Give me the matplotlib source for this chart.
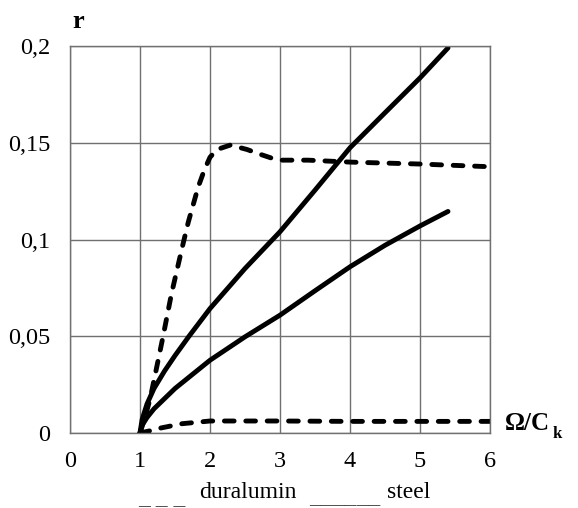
import matplotlib
matplotlib.use('Agg')
import matplotlib.pyplot as plt

plt.rcParams['font.family'] = ['Liberation Serif', 'DejaVu Serif']

# duralumin, upper curve (dashed)
dur1_x = [1, 1.07, 1.14, 1.21, 1.33, 1.45, 1.61, 1.69, 1.83, 1.92, 2.0, 2.1, 2.29,
          2.53, 2.72, 2.91, 3.0, 3.4, 4.0, 4.5, 5.0, 5.5, 6.0]
dur1_y = [0, 0.008, 0.017, 0.029, 0.05, 0.072, 0.097, 0.109, 0.127, 0.136, 0.1425, 0.1465, 0.1488,
          0.1465, 0.144, 0.1417, 0.141, 0.141, 0.1400, 0.1395, 0.139, 0.1383, 0.1376]

# duralumin, lower curve (dashed)
dur2_x = [1, 1.15, 1.3, 1.6, 2, 3, 4, 5, 6]
dur2_y = [0, 0.0012, 0.0026, 0.0048, 0.0062, 0.0062, 0.006, 0.006, 0.006]

# steel, upper curve
st1_x = [1, 1.03, 1.1, 1.2, 1.35, 1.5, 1.7, 2, 2.5, 3, 3.5, 4, 4.5, 5, 5.4]
st1_y = [0, 0.007, 0.015, 0.023, 0.032, 0.040, 0.050, 0.0643, 0.085, 0.104,
         0.1255, 0.1474, 0.1655, 0.1835, 0.199]

# steel, lower curve
st2_x = [1, 1.03, 1.1, 1.2, 1.5, 2, 2.5, 3, 3.5, 4, 4.5, 5, 5.4]
st2_y = [0, 0.004, 0.008, 0.0125, 0.023, 0.0376, 0.0497, 0.0609, 0.0735, 0.0859, 0.097, 0.107, 0.1145]

xticks = [0, 1, 2, 3, 4, 5, 6]
yticks = [0, 0.05, 0.1, 0.15, 0.2]
ytick_labels = ['0', '0,05', '0,1', '0,15', '0,2']

W, H = 578, 508
fig = plt.figure(figsize=(W / 100, H / 100), dpi=100)
ax = fig.add_axes([70 / W, 1 - 433 / H, 420 / W, 387 / H])

lw = 3.5
dash = (0, (2.0, 2.4))
ax.plot(dur1_x, dur1_y, color='black', lw=lw, linestyle=dash, dash_capstyle='round')
ax.plot(dur2_x, dur2_y, color='black', lw=lw, linestyle=dash, dash_capstyle='round')
ax.plot(st1_x, st1_y, color='black', lw=lw, solid_capstyle='round', solid_joinstyle='round')
ax.plot(st2_x, st2_y, color='black', lw=lw, solid_capstyle='round', solid_joinstyle='round')

ax.set_xlim(0, 6)
ax.set_ylim(0, 0.2)
ax.set_xticks(xticks)
ax.set_xticklabels([str(t) for t in xticks])
ax.set_yticks(yticks)
ax.set_yticklabels(ytick_labels)
ax.tick_params(length=0, labelsize=17.5)
ax.tick_params(axis='y', pad=14)
ax.tick_params(axis='x', pad=13)
ax.grid(True, color='#707070', linewidth=1.0)
ax.set_axisbelow(True)
for s in ax.spines.values():
    s.set_color('#707070')
    s.set_linewidth(1.0)

fig.text(72 / W, 1 - 28 / H, 'r', fontsize=19, fontweight='bold', va='baseline')
fig.text(505 / W, 1 - 430 / H, 'Ω/C', fontsize=18, fontweight='bold', va='baseline')
fig.text(553 / W, 1 - 438 / H, 'k', fontsize=12, fontweight='bold', va='baseline')

fig.text(138 / W, 1 - 503 / H, '_ _ _', fontsize=17, color='#444444', va='baseline')
fig.text(199 / W, 1 - 498 / H, 'duralumin', fontsize=17, va='baseline')
fig.text(309 / W, 1 - 503 / H, '______', fontsize=17, color='#444444', va='baseline')
fig.text(387 / W, 1 - 498 / H, 'steel', fontsize=17, va='baseline')

fig.savefig('out.png', dpi=100)
